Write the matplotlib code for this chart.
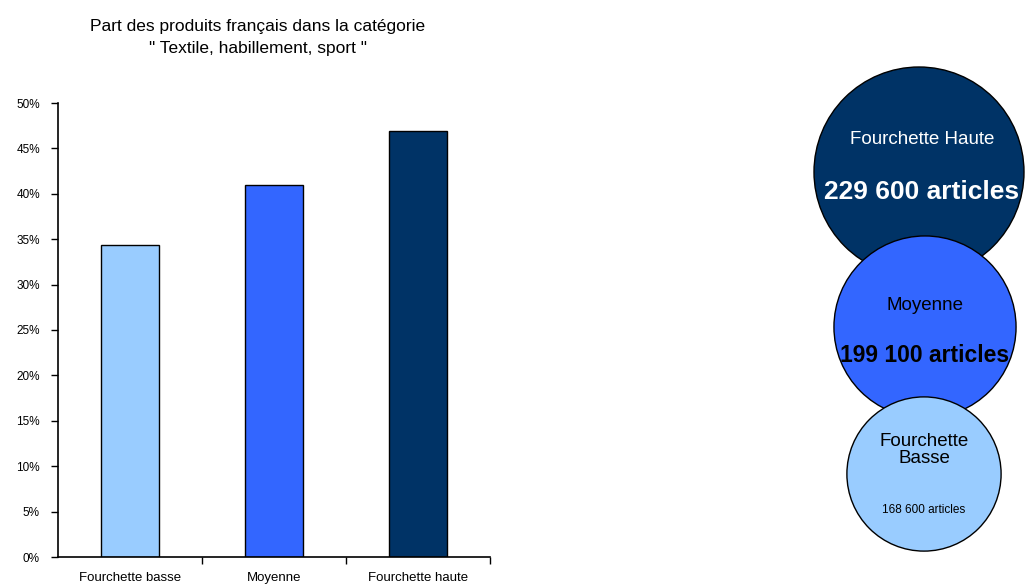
import matplotlib.pyplot as plt
from matplotlib.patches import Circle
from matplotlib.ticker import FuncFormatter

plt.rcParams['font.family'] = ['Liberation Sans', 'DejaVu Sans']

# bar chart data
categories = ["Fourchette basse", "Moyenne", "Fourchette haute"]
shares = [34.4, 41.0, 46.9]
colors = ["#99CCFF", "#3366FF", "#003366"]

# bubble data
bubble_titles = ["Fourchette Haute", "Moyenne", "Fourchette\nBasse"]
bubble_counts = [229600, 199100, 168600]
bubble_labels = ["229 600 articles", "199 100 articles", "168 600 articles"]
bubble_colors = ["#003366", "#3366FF", "#99CCFF"]

W, H = 1031, 588
fig = plt.figure(figsize=(W / 100, H / 100), dpi=100)

# left: bar chart
ax = fig.add_axes([58 / W, (H - 557) / H, (490 - 58) / W, (557 - 103) / H])
x = range(len(categories))
ax.bar(x, shares, width=0.4, color=colors, edgecolor="black", linewidth=1)
ax.set_xlim(-0.5, 2.5)
ax.set_ylim(0, 50)
ax.set_yticks(range(0, 51, 5))
ax.yaxis.set_major_formatter(FuncFormatter(lambda v, p: f"{int(v)}%"))
ax.set_xticks([0.5, 1.5, 2.5])
ax.set_xticklabels([])
ax.set_xticks(list(x), minor=True)
ax.set_xticklabels(categories, minor=True)
ax.tick_params(axis="x", which="minor", length=0, labelsize=9.5, pad=11)
ax.tick_params(axis="x", which="major", direction="out", length=5, width=1)
ax.tick_params(axis="y", direction="out", length=5, width=1, labelsize=8.5, pad=8)
ax.spines["top"].set_visible(False)
ax.spines["right"].set_visible(False)
ax.spines["left"].set_linewidth(1.2)
ax.spines["bottom"].set_linewidth(1.2)

fig.text(258 / W, 1 - 27 / H, "Part des produits français dans la catégorie",
         ha="center", va="center", fontsize=12.5)
fig.text(258 / W, 1 - 49 / H, "\" Textile, habillement, sport \"",
         ha="center", va="center", fontsize=12.5)

# right: bubbles, pixel coordinates
bx = fig.add_axes([0, 0, 1, 1])
bx.set_xlim(0, W)
bx.set_ylim(H, 0)
bx.set_aspect("equal")
bx.axis("off")

centers = [(919, 172), (925, 327), (924, 474)]
scale = 105 / bubble_counts[0]
for i, (c, n, col) in enumerate(zip(centers, bubble_counts, bubble_colors)):
    bx.add_patch(Circle(c, n * scale, facecolor=col, edgecolor="black",
                        linewidth=1, zorder=i + 1))

bx.text(922, 140, bubble_titles[0], color="white", fontsize=13.5,
        ha="center", va="center", zorder=5)
bx.text(922, 192, bubble_labels[0], color="white", fontsize=19,
        fontweight="bold", ha="center", va="center", zorder=5)
bx.text(925, 305, bubble_titles[1], color="black", fontsize=13.5,
        ha="center", va="center", zorder=5)
bx.text(925, 355, bubble_labels[1], color="black", fontsize=16.5,
        fontweight="bold", ha="center", va="center", zorder=5)
bx.text(924, 450, bubble_titles[2], color="black", fontsize=13.5,
        ha="center", va="center", linespacing=1.0, zorder=5)
bx.text(924, 510, bubble_labels[2], color="black", fontsize=8.5,
        ha="center", va="center", zorder=5)

fig.savefig("out.png", dpi=100)
